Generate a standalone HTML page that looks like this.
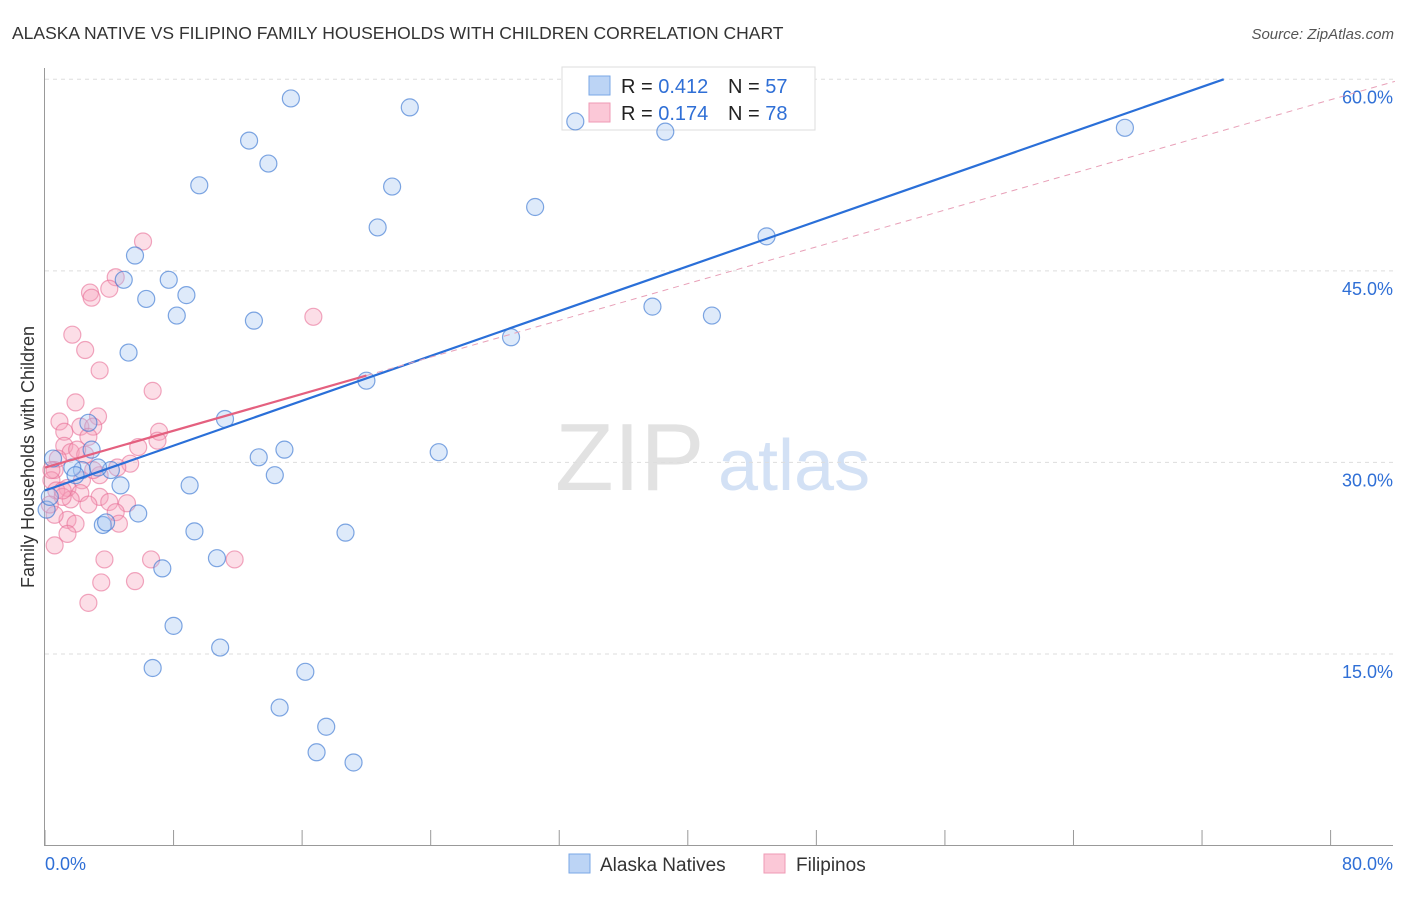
<!DOCTYPE html>
<html><head><meta charset="utf-8"><style>
body{margin:0;background:#fff;font-family:"Liberation Sans",sans-serif;}
svg text{font-family:"Liberation Sans",sans-serif;}
</style></head><body>
<svg id="chart" width="1406" height="892" xmlns="http://www.w3.org/2000/svg">
<text x="12" y="39" font-size="17.5" fill="#333">ALASKA NATIVE VS FILIPINO FAMILY HOUSEHOLDS WITH CHILDREN CORRELATION CHART</text>
<text x="1394" y="39" font-size="15" fill="#555" font-style="italic" text-anchor="end">Source: ZipAtlas.com</text>
<text x="34" y="457" font-size="18" fill="#333" text-anchor="middle" transform="rotate(-90 34 457)">Family Households with Children</text>
<text x="555" y="490" font-size="96" fill="#e2e2e2" font-family="Liberation Serif">ZIP</text>
<text x="718" y="490" font-size="72" fill="#d3e1f5">atlas</text>
<g id="grid"></g>
<g>
<rect x="562" y="67" width="253" height="63" fill="#fff" stroke="#ddd"/>
<rect x="589" y="76" width="21" height="19" fill="#bcd4f5" stroke="#7aa7e6"/>
<rect x="589" y="103" width="21" height="19" fill="#fbc8d7" stroke="#ef9ab4"/>
<text x="621" y="93" font-size="20" fill="#222">R = <tspan fill="#2f6fd6">0.412</tspan></text>
<text x="728" y="93" font-size="20" fill="#222">N = <tspan fill="#2f6fd6">57</tspan></text>
<text x="621" y="120" font-size="20" fill="#222">R = <tspan fill="#2f6fd6"> 0.174</tspan></text>
<text x="728" y="120" font-size="20" fill="#222">N = <tspan fill="#2f6fd6">78</tspan></text>
</g>
<g id="pts"></g><g id="lines"></g>
<g>
<rect x="569" y="854" width="21" height="19" fill="#bcd4f5" stroke="#7aa7e6"/>
<text x="600" y="871" font-size="19" fill="#333">Alaska Natives</text>
<rect x="764" y="854" width="21" height="19" fill="#fbc8d7" stroke="#ef9ab4"/>
<text x="796" y="871" font-size="19" fill="#333">Filipinos</text>
</g>
</svg>
<script>
const yTicks=[15,30,45,60];
const xTickLabels=["0.0%","80.0%"];
const blueX=[15.3,22.7,33.0,38.6,67.2,12.7,13.9,9.6,21.6,30.5,20.7,44.9,5.6,4.9,7.7,6.3,8.8,8.2,13.0,37.8,41.5,5.2,29.0,20.0,11.2,2.7,14.9,2.9,13.3,24.5,0.5,2.3,4.1,14.3,4.7,9.0,5.8,3.6,3.8,18.7,9.3,10.7,7.3,8.0,10.9,6.7,16.2,14.6,17.5,16.9,19.2,0.1,0.3,1.7,3.3,1.9];
const blueY=[58.5,57.8,56.7,55.9,56.2,55.2,53.4,51.7,51.6,50.0,48.4,47.7,46.2,44.3,44.3,42.8,43.1,41.5,41.1,42.2,41.5,38.6,39.8,36.4,33.4,33.1,31.0,31.0,30.4,30.8,30.3,29.4,29.4,29.0,28.2,28.2,26.0,25.1,25.3,24.5,24.6,22.5,21.7,17.2,15.5,13.9,13.6,10.8,9.3,7.3,6.5,26.3,27.3,29.6,29.6,29.0];
const pinkX=[6.1,4.4,2.8,2.9,4.0,16.7,1.7,2.5,3.4,6.7,1.9,3.3,0.9,1.2,2.2,3.0,7.1,7.0,5.8,2.7,1.2,1.6,0.8,5.3,4.5,3.4,0.6,2.3,0.4,1.4,0.7,2.2,3.4,1.6,4.0,5.1,2.7,1.1,4.4,1.4,1.9,4.6,0.6,1.4,0.6,3.7,6.6,11.8,3.5,5.6,2.7,0.3,0.4,2.5,3.0,2.0,1.1];
const pinkY=[47.3,44.5,43.3,42.9,43.6,41.4,40.0,38.8,37.2,35.6,34.7,33.6,33.2,32.4,32.8,32.8,32.4,31.7,31.2,32.0,31.3,30.8,30.3,29.9,29.6,29.0,29.4,28.6,28.6,28.0,27.8,27.6,27.3,27.1,26.9,26.8,26.7,27.3,26.1,25.5,25.2,25.2,25.9,24.4,23.5,22.4,22.4,22.4,20.6,20.7,19.0,26.7,29.4,30.6,29.4,31.0,27.8];
const blueFit=[27.8,0.439];
const pinkFit=[29.6,0.36];
const NS="http://www.w3.org/2000/svg";
const sx=v=>45+v*16.07, sy=v=>845.5-v*12.77;
function mk(tag,attrs,parent){const e=document.createElementNS(NS,tag);for(const k in attrs)e.setAttribute(k,attrs[k]);parent.appendChild(e);return e;}
const grid=document.getElementById('grid');
yTicks.forEach(t=>{
 const l=mk('line',{x1:45,x2:1393,y1:sy(t),y2:sy(t),stroke:'#ddd','stroke-dasharray':'4,4'},grid);
 
 
 const tx=mk('text',{x:1393,y:sy(t)+24,'font-size':18,fill:'#2f6fd6','text-anchor':'end'},grid);
 tx.textContent=t.toFixed(1)+'%';
 
 
});
const ax=mk('line',{x1:44.5,x2:44.5,y1:68,y2:846,stroke:'#999'},grid);


const bx=mk('line',{x1:44,x2:1393,y1:845.5,y2:845.5,stroke:'#999'},grid);


for(let i=0;i<=10;i++){
 const t=mk('line',{x1:sx(i*8),x2:sx(i*8),y1:830,y2:846,stroke:'#999'},grid);
 
 
}
const xl0=mk('text',{x:45,y:870,'font-size':18,fill:'#2f6fd6'},grid);xl0.textContent=xTickLabels[0];


const xl1=mk('text',{x:1393,y:870,'font-size':18,fill:'#2f6fd6','text-anchor':'end'},grid);xl1.textContent=xTickLabels[1];


const pts=document.getElementById('pts');
pinkX.forEach((x,i)=>{
 const c=mk('circle',{cx:sx(x),cy:sy(pinkY[i]),r:8.5,fill:'rgba(246,160,186,0.35)',stroke:'rgba(232,110,150,0.6)','stroke-width':1.2},pts);
 
 
});
blueX.forEach((x,i)=>{
 const c=mk('circle',{cx:sx(x),cy:sy(blueY[i]),r:8.5,fill:'rgba(160,195,240,0.35)',stroke:'rgba(60,120,210,0.65)','stroke-width':1.2},pts);
 
 
});
const lines=document.getElementById('lines');
const bxEnd=(60-blueFit[0])/blueFit[1];
const bl=mk('line',{x1:sx(0),y1:sy(blueFit[0]),x2:sx(bxEnd),y2:sy(60),stroke:'#2a6fd8','stroke-width':2.2},lines);


const pd=mk('line',{x1:sx(20),y1:sy(pinkFit[0]+pinkFit[1]*20),x2:sx(84),y2:sy(pinkFit[0]+pinkFit[1]*84),stroke:'#e8a0b8','stroke-width':1,'stroke-dasharray':'6,5'},lines);


const pl=mk('line',{x1:sx(0),y1:sy(pinkFit[0]),x2:sx(20),y2:sy(pinkFit[0]+pinkFit[1]*20),stroke:'#e4607f','stroke-width':2.2},lines);


</script>
</body></html>
